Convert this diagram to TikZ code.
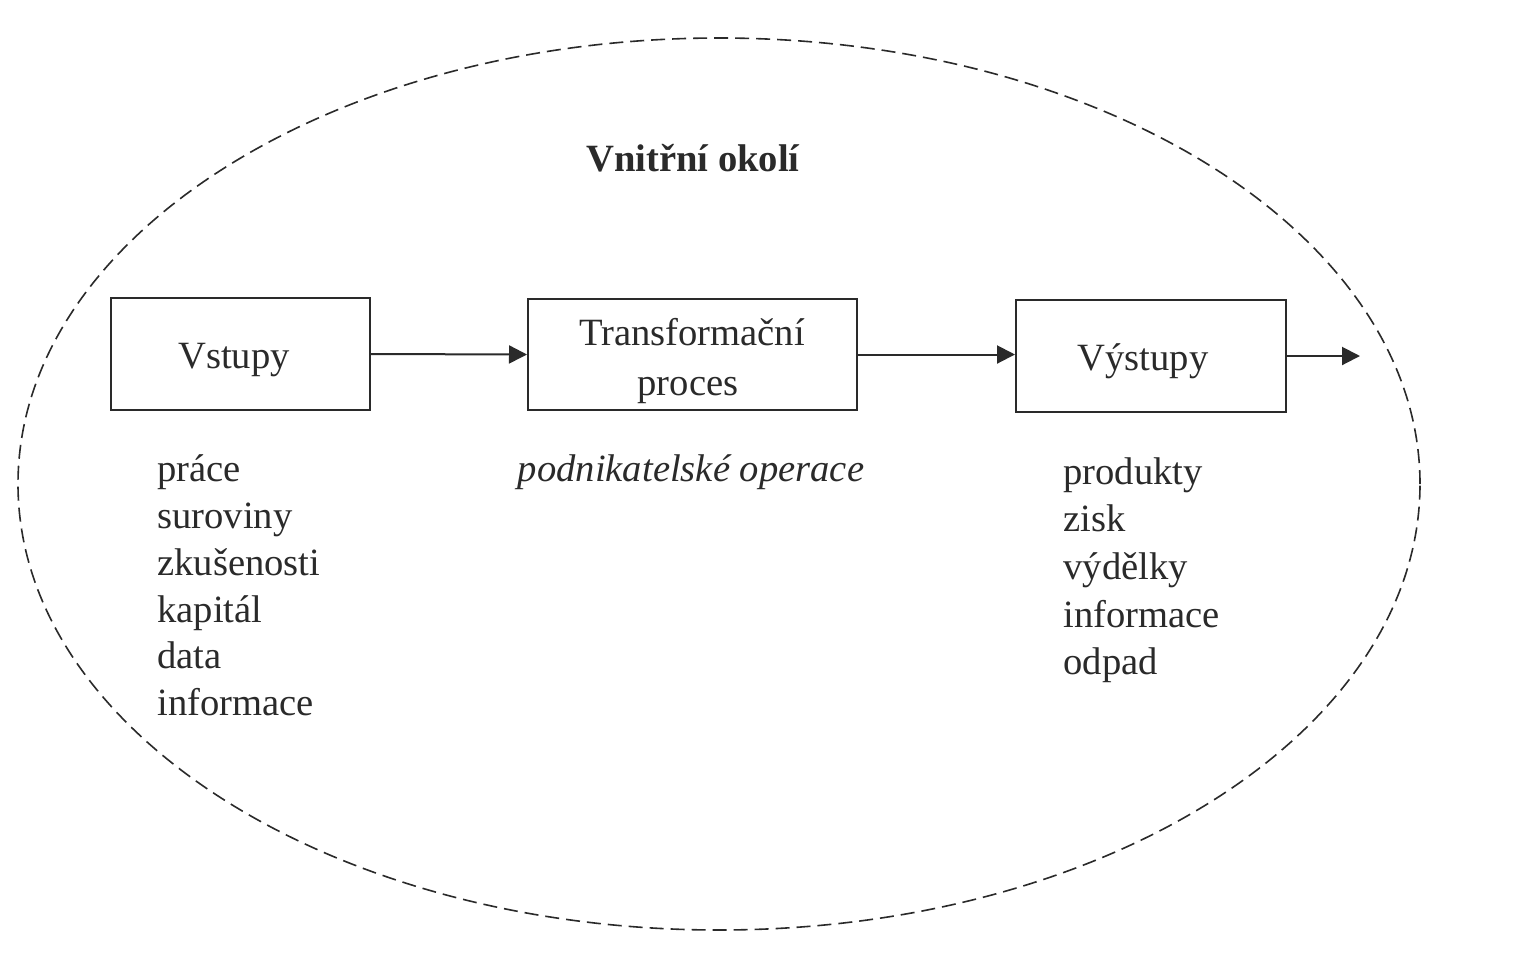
\documentclass[tikz,border=0pt]{standalone}
\usepackage{fontspec}
\setmainfont{Liberation Serif}
\usetikzlibrary{arrows.meta}
\definecolor{ink}{HTML}{2A2A2A}
\tikzset{
  px/.style={x=0.5pt,y=-0.5pt},
  txt/.style={font=\fontsize{19.3pt}{25pt}\selectfont, text=ink, inner sep=0pt},
  procbox/.style={draw=ink, line width=1pt, inner sep=0pt},
  flow/.style={draw=ink, line width=1pt, -{Triangle[length=9pt,width=9pt]}},
  env/.style={draw=ink, line width=0.8pt, dash pattern=on 7pt off 3.5pt},
}
\begin{document}
\begin{tikzpicture}[px]
\useasboundingbox (0,0) rectangle (1521,966);
\fill[white] (0,0) rectangle (1521,966);
\draw[env] (719,484) ellipse [x radius=350.5pt, y radius=223pt];
\node[txt, font=\fontsize{19.3pt}{25pt}\selectfont\bfseries, anchor=base] (title) at (693,171) {Vnitřní okolí};
\node[procbox, minimum width=129.5pt, minimum height=56pt] (vst) at (240.5,354) {};
\node[procbox, minimum width=164.5pt, minimum height=55.5pt] (tra) at (692.5,354.5) {};
\node[procbox, minimum width=135pt, minimum height=56pt] (vys) at (1151,356) {};
\node[txt, anchor=base] (vstt) at (234,368) {Vstupy};
\node[txt, anchor=base] (trat1) at (692,345) {Transformační};
\node[txt, anchor=base] (trat2) at (688,395) {proces};
\node[txt, anchor=base] (vyst) at (1143,370) {Výstupy};
\coordinate (out) at (1360,356);
\draw[flow] (vst.east) -- (tra.west);
\draw[flow] (tra.east) -- (tra.east -| vys.west);
\draw[flow] (vys.east) -- (out);
% inputs
\node[txt, anchor=base west] (i1) at (157,481) {práce};
\node[txt, anchor=base west] (i2) at (157,528) {suroviny};
\node[txt, anchor=base west] (i3) at (157,575) {zkušenosti};
\node[txt, anchor=base west] (i4) at (157,622) {kapitál};
\node[txt, anchor=base west] (i5) at (157,668) {data};
\node[txt, anchor=base west] (i6) at (157,715) {informace};
% operations
\node[txt, font=\fontsize{19.3pt}{25pt}\selectfont\itshape, anchor=base] (op) at (691,481) {podnikatelské operace};
% outputs
\node[txt, anchor=base west] (o1) at (1063,484) {produkty};
\node[txt, anchor=base west] (o2) at (1063,531) {zisk};
\node[txt, anchor=base west] (o3) at (1063,579) {výdělky};
\node[txt, anchor=base west] (o4) at (1063,627) {informace};
\node[txt, anchor=base west] (o5) at (1063,674) {odpad};
\end{tikzpicture}
\end{document}
